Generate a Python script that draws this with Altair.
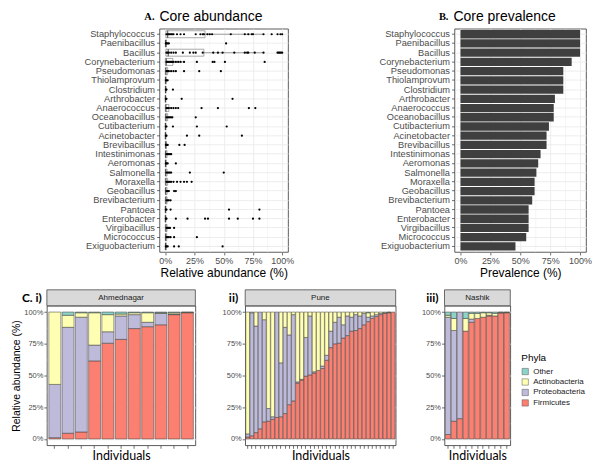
import altair as alt
import pandas as pd

# ---------------- data ----------------
genera = ["Staphylococcus", "Paenibacillus", "Bacillus", "Corynebacterium", "Pseudomonas",
          "Thiolamprovum", "Clostridium", "Arthrobacter", "Anaerococcus", "Oceanobacillus",
          "Cutibacterium", "Acinetobacter", "Brevibacillus", "Intestinimonas", "Aeromonas",
          "Salmonella", "Moraxella", "Geobacillus", "Brevibacterium", "Pantoea",
          "Enterobacter", "Virgibacillus", "Micrococcus", "Exiguobacterium"]

# boxplot statistics (relative abundance, %)
box_q1 = [0.5, 0, 0.5, 0, 0, 0, 0, 0, 0, 0, 0, 0, 0, 0, 0, 0, 0, 0, 0, 0, 0, 0, 0, 0]
box_med = [2, 0.3, 2.5, 0.8, 0.5, 0.2, 0.2, 0.1, 0.5, 0.5, 0.1, 0.1, 0.3, 0.3, 0.2, 0.3,
           0.5, 0.3, 0.5, 0.1, 0.1, 0.5, 0.3, 0.2]
box_q3 = [34, 1, 33, 6.5, 2, 0.8, 0.6, 0.4, 3, 2, 0.5, 0.5, 1, 1.5, 0.8, 1.5,
          2, 1.5, 1.5, 0.5, 0.5, 1.5, 1.2, 0.8]
box_hi = [84, 2.5, 84, 16, 5, 2, 1.5, 1, 7, 5, 1.2, 1.2, 2.5, 3.5, 2, 3.5,
          5, 3.5, 3.5, 1.2, 1.2, 3.5, 3, 2]

abund_points = [
    [1, 2, 3, 4, 5, 6, 7, 10, 13, 16, 26, 30, 32, 33, 36, 38, 40, 56, 68, 71, 74, 75, 84, 91, 96, 98.5, 100],
    [0.5, 1, 2, 3, 52],
    [1, 2, 3, 5, 7, 9, 15, 21, 24, 26, 32, 41, 45, 49, 59, 68, 70, 71, 76.5, 84, 96, 97, 98, 99, 100],
    [1, 2, 3, 4, 5, 6, 7, 9, 11, 13, 16, 27, 40.5, 42, 51, 85],
    [1, 2, 3, 5, 7, 9, 16, 29, 47.5],
    [0.5, 1, 2],
    [0.5, 1, 6.5],
    [0.5, 1, 14, 57.5],
    [1, 2, 3, 5, 7, 9, 11, 31, 45, 71.5, 77],
    [1, 2, 3, 4, 5, 6, 26],
    [0.5, 1, 6.5, 27, 52.5],
    [0.5, 1, 18.5, 29, 65.5],
    [0.5, 1, 2, 12, 16.5],
    [1, 2, 3, 4, 5],
    [0.5, 1, 2, 9],
    [1, 2, 3, 4, 5, 21, 50],
    [1, 2, 3, 4, 5, 7, 10, 13, 16, 18.5, 22.5],
    [1, 2, 3, 7.5, 9],
    [1, 2, 3, 4.5],
    [0.5, 1, 4.5, 54.5, 80.5],
    [0.5, 1, 9, 19, 34, 36.5, 54.5, 62, 75, 80.5],
    [1, 2, 3, 4, 7.5],
    [1, 2, 3, 4.5, 7.5, 27],
    [0.5, 1, 2, 7.5, 11.5, 49],
]

prevalence = [100, 100, 100, 93, 86, 86, 86, 79, 78, 78, 74, 72, 72, 67, 65, 63.5,
              62, 62, 60, 57, 57, 57, 55, 46]

phyla = ["Other", "Actinobacteria", "Proteobacteria", "Firmicutes"]
phyla_colors = ["#8DD3C7", "#FFFFB3", "#BEBADA", "#FB8072"]

ahm_firm = [1, 4.5, 5.5, 61.5, 75.5, 78.5, 87, 88.5, 90, 98, 99.5]
ahm_proteo = [42, 83.5, 90.5, 12.5, 9, 18.5, 11, 3.5, 9, 0.5, 0]
ahm_actino = [57, 9.5, 3.5, 25.5, 13.5, 1.5, 1.5, 7.5, 0.5, 1, 0.3]
ahm_other = [0, 2.5, 0.5, 0.5, 2, 1.5, 0.5, 0.5, 0.5, 0.5, 0.2]

pune_firm = [1.5, 2.5, 5, 8, 13.5, 14, 15.5, 17, 17.5, 20, 27, 30, 44, 46.5, 49.5, 50.5, 52, 54,
             55.5, 62, 72, 75, 75.5, 79.5, 81.5, 85, 85.5, 87, 90, 92.5, 95, 96.5, 98, 99, 99.5, 100]
pune_proteo = [2.5, 97, 84, 92, 80.5, 10, 2, 83, 42.5, 68, 55, 68, 1, 0.5, 30.5, 46.5, 1, 0,
               2, 4, 13, 17, 20.5, 10.5, 15.5, 11, 12.5, 10, 9, 3.5, 2, 1.5, 1, 0.5, 0.3, 0]
pune_actino = [96, 0.5, 11, 0, 6, 76, 82.5, 0, 40, 12, 18, 2, 55, 53, 20, 3, 47, 46,
               42.5, 34, 15, 8, 4, 10, 3, 4, 2, 3, 1, 3.5, 3, 2, 1, 0.5, 0.2, 0]
pune_other = [0, 0, 0, 0, 0, 0, 0, 0, 0, 0, 0, 0, 0, 0, 0, 0, 0, 0,
              0, 0, 0, 0, 0, 0, 0, 0, 0, 0, 0, 0.5, 0, 0, 0, 0, 0, 0]

nas_firm = [3.5, 14, 16, 85, 92, 95, 96, 97, 97, 99.3, 99.5]
nas_proteo = [92.5, 71.5, 84, 0, 2.5, 0, 0, 0.5, 0, 0, 0]
nas_actino = [1.5, 9.5, 0, 10, 4.5, 4, 3.5, 2, 2, 0.5, 0.3]
nas_other = [2.5, 5, 0, 5, 1, 1, 0.5, 0.5, 1, 0.2, 0.2]

pct_ticks = [0, 12.5, 25, 37.5, 50, 62.5, 75, 87.5, 100]

# ---------------- helpers ----------------
major = "datum.value % 25 === 0"
label_expr = f"{major} ? datum.value + '%' : ''"
tick_op = {"condition": {"test": major, "value": 1}, "value": 0}
grid_w = {"condition": {"test": major, "value": 0.9}, "value": 0.45}
pct_scale = alt.Scale(domain=[-5, 105], nice=False, zero=False)

def pct_axis(title, size, **kw):
    base = dict(values=pct_ticks, labelExpr=label_expr, tickOpacity=tick_op,
                gridWidth=grid_w, grid=True, labelFlush=False, labelOverlap=False,
                tickSize=3, labelFontSize=size, labelPadding=2, title=title)
    base.update(kw)
    return alt.Axis(**base)

def label_layer(txt, dx, dy, font, size, weight, align="right", baseline="alphabetic"):
    return alt.Chart(pd.DataFrame({"t": [txt]})).mark_text(
        align=align, baseline=baseline, font=font, fontSize=size,
        fontWeight=weight, color="black").encode(
        text="t:N", x=alt.value(dx), y=alt.value(dy))

def spacer():
    return alt.Chart(pd.DataFrame({"d": [0]})).mark_rect(opacity=0).encode(
        x=alt.value(0), x2=alt.value(1), y=alt.value(0), y2=alt.value(1)).properties(
        width=1, height=1, view=alt.ViewBackground(stroke="transparent", fill="transparent"))

# ---------------- panel A ----------------
stats = pd.DataFrame({"genus": genera, "q1": box_q1, "med": box_med, "q3": box_q3, "hi": box_hi})
pts = pd.DataFrame([{"genus": g, "v": v} for g, vs in zip(genera, abund_points) for v in vs])

yA = alt.Y("genus:N", scale=alt.Scale(domain=genera, paddingInner=0, paddingOuter=0.1),
           axis=alt.Axis(title=None, labelFontSize=9.3, tickSize=3, bandPosition=0.5,
                         grid=True, gridWidth=0.9, minExtent=148, labelPadding=2))
xA_axis = pct_axis("Relative abundance (%)", 9, titleFontSize=12, titlePadding=2)

whisk = alt.Chart(stats).mark_rule(color="#444444", strokeWidth=0.5).encode(
    x=alt.X("q3:Q", scale=pct_scale, axis=xA_axis), x2="hi:Q", y=yA)
box = alt.Chart(stats).mark_bar(size=7, fill="white", stroke="#555555", strokeWidth=0.5).encode(
    x=alt.X("q1:Q", scale=pct_scale, axis=xA_axis), x2="q3:Q", y=yA)
med = alt.Chart(stats).mark_tick(orient="vertical", size=7, thickness=1.2, color="#222222").encode(
    x=alt.X("med:Q", scale=pct_scale, axis=xA_axis), y=yA)
dots = alt.Chart(pts).mark_circle(size=5, color="black", opacity=1).encode(
    x=alt.X("v:Q", scale=pct_scale, axis=xA_axis), y=yA)

panelA = alt.layer(
    whisk, box, med, dots,
    label_layer("A.", -5, -17, "Liberation Serif", 10.5, "bold", "right", "top"),
    label_layer("Core abundance", 0, -19, "Liberation Sans", 14, "normal", "left", "top"),
).properties(width=129, height=224)

# ---------------- panel B ----------------
prev = pd.DataFrame({"genus": genera, "prev": prevalence})
yB = alt.Y("genus:N", scale=alt.Scale(domain=genera, paddingInner=0.1, paddingOuter=0.15),
           axis=alt.Axis(title=None, labelFontSize=9.3, tickSize=3, bandPosition=0.5,
                         grid=True, gridWidth=0.9, minExtent=159, labelPadding=2))
barsB = alt.Chart(prev).mark_bar(color="#3F3F3F").encode(
    x=alt.X("prev:Q", scale=pct_scale, axis=pct_axis("Prevalence (%)", 9, titleFontSize=12, titlePadding=2)),
    x2=alt.datum(0), y=yB)
panelB = alt.layer(
    barsB,
    label_layer("B.", -6, -17, "Liberation Serif", 10.5, "bold", "right", "top"),
    label_layer("Core prevalence", -1, -19, "Liberation Sans", 14, "normal", "left", "top"),
).properties(width=132, height=224)

top = alt.hconcat(spacer(), panelA, panelB, spacing=0)

# ---------------- panel C ----------------
def phyla_df(firm, proteo, actino, other):
    rows = []
    for i in range(len(firm)):
        for name, arr, o in [("Firmicutes", firm, 0), ("Proteobacteria", proteo, 1),
                             ("Actinobacteria", actino, 2), ("Other", other, 3)]:
            if arr[i] > 0:
                rows.append({"ind": i + 1, "phylum": name, "val": arr[i], "ord": o})
    return pd.DataFrame(rows)

def bar_panel(df, width, strip, label, label_dx, min_ext, ytitle, legend):
    yax = pct_axis(ytitle, 7.5, minExtent=min_ext, titlePadding=2, titleFontSize=10.5,
                   labelPadding=1)
    bars = alt.Chart(df).mark_bar(stroke="#3A3A3A", strokeWidth=0.5).encode(
        x=alt.X("ind:O", scale=alt.Scale(paddingInner=0.1, paddingOuter=0.15),
                axis=alt.Axis(labels=False, ticks=True, tickSize=3, bandPosition=0.5,
                              grid=False, title="Individuals", titleFont="Lato",
                              titleFontSize=12.5, titlePadding=1)),
        y=alt.Y("val:Q", stack="zero", scale=pct_scale, axis=yax),
        color=alt.Color("phylum:N", scale=alt.Scale(domain=phyla, range=phyla_colors),
                        legend=legend),
        order=alt.Order("ord:Q"))
    sdf = pd.DataFrame({"s": [strip]})
    srect = alt.Chart(sdf).mark_rect(fill="#D9D9D9", stroke="#333333", strokeWidth=0.7).encode(
        x=alt.value(0), x2=alt.value(width), y=alt.value(-16), y2=alt.value(0))
    stext = alt.Chart(sdf).mark_text(fontSize=8, color="#1A1A1A", font="Liberation Sans",
                                     baseline="middle").encode(
        text="s:N", x=alt.value(width / 2), y=alt.value(-8))
    lab = label_layer(label, label_dx, -4, "Lato", 12, "bold")
    return alt.layer(bars, srect, stext, lab).properties(width=width, height=140)

legend = alt.Legend(title="Phyla", orient="none", legendX=77, legendY=47, padding=0,
                    titleFontSize=10, titleFont="Liberation Sans", titleFontWeight="normal",
                    titlePadding=5, labelFontSize=8, labelFont="Liberation Sans",
                    labelColor="#1A1A1A", symbolType="square", symbolSize=40,
                    symbolStrokeColor="#555555", symbolStrokeWidth=0.5, rowPadding=0.5,
                    labelOffset=4, symbolOpacity=1)

ci = bar_panel(phyla_df(ahm_firm, ahm_proteo, ahm_actino, ahm_other), 149, "Ahmednagar",
               "C. i)", -5, 21, "Relative abundance (%)", None)
cii = bar_panel(phyla_df(pune_firm, pune_proteo, pune_actino, pune_other), 151, "Pune",
                "ii)", -7, 48, None, None)
ciii = bar_panel(phyla_df(nas_firm, nas_proteo, nas_actino, nas_other), 66, "Nashik",
                 "iii)", -6, 47, None, legend)

bottom = alt.hconcat(spacer(), ci, cii, ciii, spacing=0).resolve_legend(color="independent")

chart = alt.vconcat(top, bottom, spacing=9).properties(
    padding=0
).configure_view(
    stroke="#333333", strokeWidth=0.8, fill="white"
).configure_axis(
    domain=False, tickColor="#333333", tickWidth=0.7, labelColor="#4D4D4D",
    gridColor="#EBEBEB", labelFont="Liberation Sans", titleFont="Liberation Sans",
    titleFontWeight="normal", titleColor="#000000"
)

chart.save("out.html", embed_options={"renderer": "svg", "actions": False})
